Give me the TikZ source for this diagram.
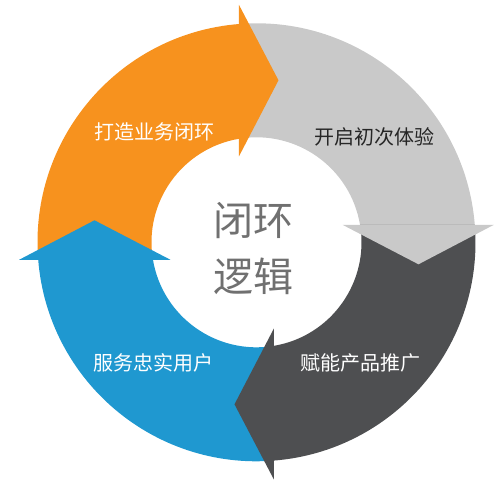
\documentclass[tikz,border=0pt]{standalone}
\usepackage{fontspec}
\usepackage{tikz, xcolor}
\newfontfamily\cjk{Noto Sans CJK SC}

\definecolor{orng}{HTML}{F7921E}
\definecolor{lgray}{HTML}{C9C9C9}
\definecolor{dgray}{HTML}{4E4F51}
\definecolor{blu}{HTML}{1F98D0}
\definecolor{txtgray}{HTML}{707070}

\begin{document}
\begin{tikzpicture}[x=1pt, y=1pt]
\tikzstyle{label}=[font=\cjk\fontsize{20}{24}\selectfont, inner sep=0pt]
\tikzstyle{bigtext}=[font=\cjk\fontsize{40}{48}\selectfont, text=txtgray, inner sep=0pt]
\useasboundingbox (-256.5,-257.7) rectangle (244.5,242.3);

% ring segments
\fill[orng] (184.58:219) arc[start angle=184.58, end angle=94.58, radius=219pt] -- (99.59:105) arc[start angle=99.59, end angle=189.59, radius=105pt] -- cycle;
\fill[lgray] (94.58:219) arc[start angle=94.58, end angle=4.58, radius=219pt] -- (9.59:105) arc[start angle=9.59, end angle=99.59, radius=105pt] -- cycle;
\fill[dgray] (4.58:219) arc[start angle=4.58, end angle=-85.42, radius=219pt] -- (-80.41:105) arc[start angle=-80.41, end angle=9.59, radius=105pt] -- cycle;
\fill[blu] (-85.42:219) arc[start angle=-85.42, end angle=-175.42, radius=219pt] -- (-170.41:105) arc[start angle=-170.41, end angle=-80.41, radius=105pt] -- cycle;

% arrow heads
\fill[orng] (-17.5,237.4) -- (22,162) -- (-17.5,86) -- cycle;
\fill[lgray, rotate=-90] (-17.5,237.4) -- (22,162) -- (-17.5,86) -- cycle;
\fill[dgray, rotate=-180] (-17.5,237.4) -- (22,162) -- (-17.5,86) -- cycle;
\fill[blu, rotate=-270] (-17.5,237.4) -- (22,162) -- (-17.5,86) -- cycle;

\node[label, text=white] (L0) at (-101.5,110.3) {打造业务闭环};
\node[label, text=black!85] (L1) at (118.5,105.3) {开启初次体验};
\node[label, text=white] (L2) at (104.5,-120.7) {赋能产品推广};
\node[label, text=white] (L3) at (-102.5,-120.7) {服务忠实用户};

\node[bigtext] (C0) at (-2.5,21.3) {闭环};
\node[bigtext] (C1) at (-2.5,-33.7) {逻辑};
\end{tikzpicture}
\end{document}
